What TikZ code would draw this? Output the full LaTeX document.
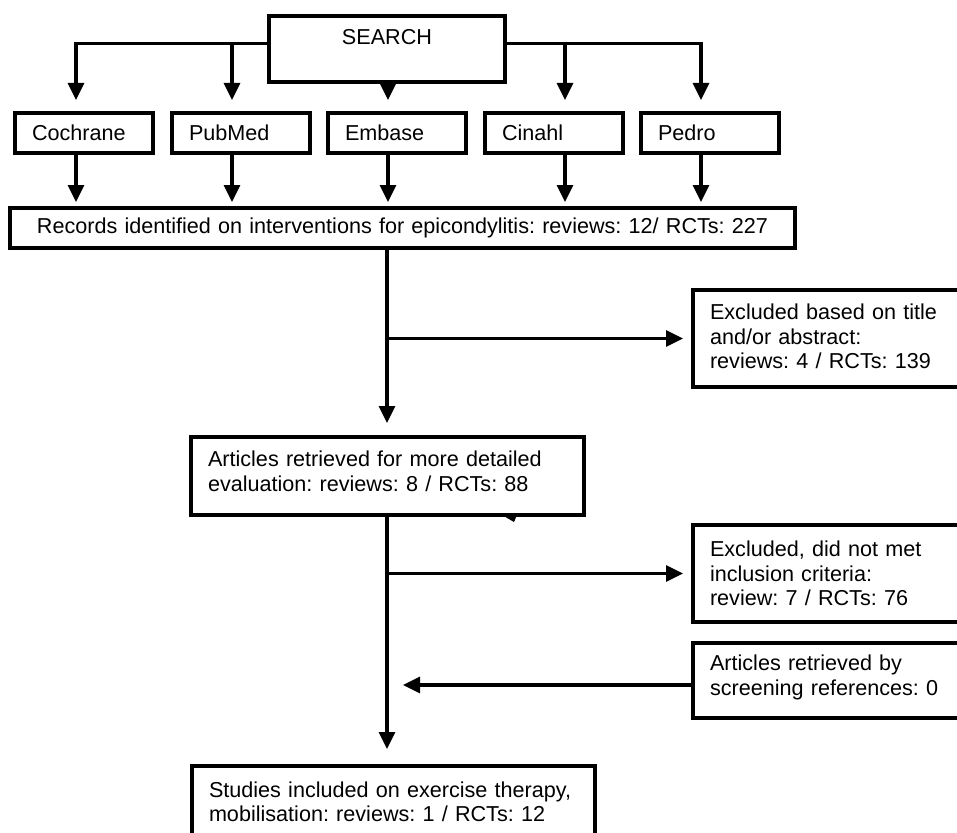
\documentclass[tikz,border=0pt]{standalone}
\usepackage{fontspec}
\setmainfont{Liberation Sans}
\usetikzlibrary{arrows.meta}
\frenchspacing
\begin{document}
\begin{tikzpicture}[x=1pt,y=-1pt,
  lw/.style={line width=3.1pt},
  box/.style={draw, lw, rectangle, anchor=north west, outer sep=0pt, inner xsep=17pt, inner ysep=0pt, align=left, font=\fontsize{21.6}{24.5}\selectfont\frenchspacing},
  dbbox/.style={box, text width=104pt, minimum height=40pt},
  sidebox/.style={box, text width=233pt},
  arr/.style={lw, -{Triangle[length=17pt,width=16pt]}},
]
\useasboundingbox (0,0) rectangle (957,832);
\fill[white] (0,0) rectangle (957,832);
\clip (0,0) rectangle (957,832);

% nodes
\node[box, align=center, text width=202pt, minimum height=66pt] (search) at (269,16) {SEARCH\\ \mbox{}};
\node[dbbox] (coch) at (15,113) {Cochrane};
\node[dbbox] (pub) at (172,113) {PubMed};
\node[dbbox] (emb) at (328,113) {Embase};
\node[dbbox] (cin) at (485,113) {Cinahl};
\node[dbbox] (ped) at (641,113) {Pedro};
\node[box, align=center, text width=751pt, minimum height=40pt] (rec) at (10,208) {Records identified on interventions for epicondylitis: reviews: 12/ RCTs: 227};
\node[sidebox, minimum height=97pt] (exc1) at (693,290) {Excluded based on title\\and/or abstract:\\reviews: 4 / RCTs: 139\\[-20pt]\mbox{}};
\node[box, text width=359pt, minimum height=78pt] (art) at (191,437) {Articles retrieved for more detailed\\evaluation: reviews: 8 / RCTs: 88\\[-14.5pt]\mbox{}};
\node[sidebox, minimum height=97pt] (exc2) at (693,525) {Excluded, did not met\\inclusion criteria:\\review: 7 / RCTs: 76};
\node[sidebox, minimum height=75pt] (scr) at (693,643) {Articles retrieved by\\screening references: 0\\[-13.5pt]\mbox{}};
\node[box, text width=369pt, minimum height=72pt] (fin) at (192,766) {Studies included on exercise therapy,\\mobilisation: reviews: 1 / RCTs: 12};

% column coordinates
\coordinate (c1) at (76,43.5);
\coordinate (c2) at (232,43.5);
\coordinate (c3) at (388,43.5);
\coordinate (c4) at (565,43.5);
\coordinate (c5) at (701,43.5);
\coordinate (m) at (387,0);
\coordinate (s0) at (0,685);

% search branches
\draw[arr, shorten >=13pt] (search.west |- c1) -| (c1 |- coch.north);
\draw[arr, shorten >=13pt] (c2) -- (c2 |- pub.north);
\draw[arr, shorten >=13pt] (c3 |- search.south) -- (c3 |- emb.north);
\draw[arr, shorten >=13pt] (c4) -- (c4 |- cin.north);
\draw[arr, shorten >=13pt] (search.east |- c5) -| (c5 |- ped.north);

% databases to records
\draw[arr, shorten >=6pt] (c1 |- coch.south) -- (c1 |- rec.north);
\draw[arr, shorten >=6pt] (c2 |- pub.south) -- (c2 |- rec.north);
\draw[arr, shorten >=6pt] (c3 |- emb.south) -- (c3 |- rec.north);
\draw[arr, shorten >=6pt] (c4 |- cin.south) -- (c4 |- rec.north);
\draw[arr, shorten >=6pt] (c5 |- ped.south) -- (c5 |- rec.north);

% main flow
\draw[arr, shorten >=14pt] (m |- rec.south) -- (m |- art.north);
\draw[arr, shorten >=10pt] (m |- exc1.west) -- (exc1.west);
\draw[arr, shorten >=17pt] (m |- art.south) -- (m |- fin.north);
\draw[arr, shorten >=10pt] (m |- exc2.west) -- (exc2.west);
\draw[arr, shorten >=16pt] (scr.west |- s0) -- (m |- s0);

% small wedge below the articles box
\fill (502,515) -- (517,515) -- (514,522) -- cycle;
\end{tikzpicture}
\end{document}
